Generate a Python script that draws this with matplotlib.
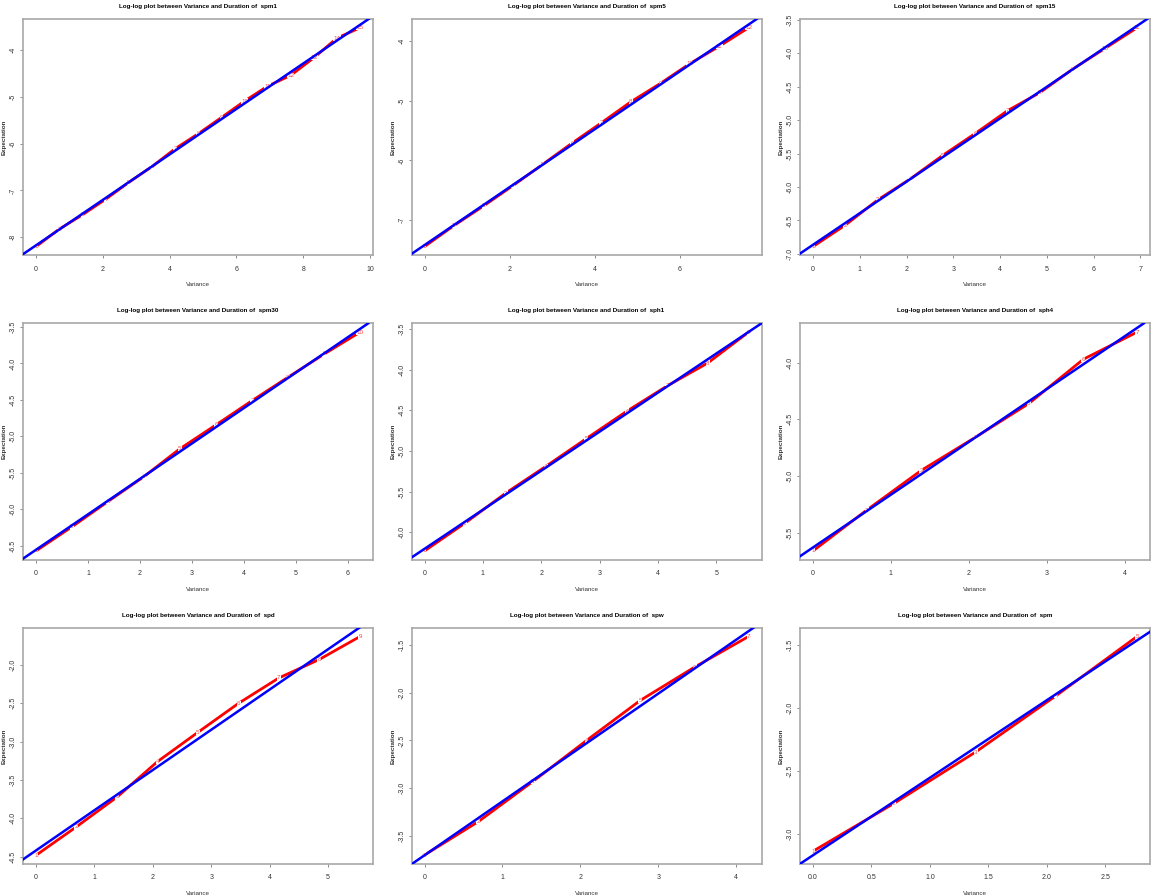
import numpy as np
import matplotlib.pyplot as plt

plt.rcParams['font.family'] = ['Liberation Sans Narrow', 'Liberation Sans', 'DejaVu Sans']
plt.rcParams['axes.unicode_minus'] = False

names = ["spm1", "spm5", "spm15", "spm30", "sph1", "sph4", "spd", "spw", "spm"]

# log(scale) on x, log(expectation) on y, one list per series
x_spm1 = [0.00, 0.69, 1.39, 2.08, 2.77, 3.47, 4.16, 4.85, 5.55, 6.24, 6.93, 7.62, 8.32, 9.01, 9.70]
y_spm1 = [-8.20, -7.83, -7.52, -7.19, -6.83, -6.49, -6.11, -5.79, -5.44, -5.09, -4.77, -4.54, -4.16, -3.74, -3.52]

x_spm5 = [0.00, 0.69, 1.39, 2.08, 2.77, 3.47, 4.16, 4.85, 5.55, 6.24, 6.93, 7.62]
y_spm5 = [-7.44, -7.09, -6.76, -6.42, -6.07, -5.71, -5.37, -5.02, -4.71, -4.38, -4.09, -3.78]

x_spm15 = [0.00, 0.69, 1.39, 2.08, 2.77, 3.47, 4.16, 4.85, 5.55, 6.24, 6.93]
y_spm15 = [-6.89, -6.57, -6.19, -5.88, -5.53, -5.20, -4.86, -4.59, -4.24, -3.93, -3.62]

x_spm30 = [0.00, 0.69, 1.39, 2.08, 2.77, 3.47, 4.16, 4.85, 5.55, 6.24]
y_spm30 = [-6.57, -6.24, -5.89, -5.55, -5.17, -4.84, -4.51, -4.19, -3.87, -3.57]

x_sph1 = [0.00, 0.69, 1.39, 2.08, 2.77, 3.47, 4.16, 4.85, 5.55]
y_sph1 = [-6.23, -5.89, -5.52, -5.19, -4.85, -4.51, -4.20, -3.92, -3.54]

x_sph4 = [0.00, 0.69, 1.39, 2.08, 2.77, 3.47, 4.16]
y_sph4 = [-5.66, -5.30, -4.95, -4.66, -4.36, -3.97, -3.73]

x_spd = [0.00, 0.69, 1.39, 2.08, 2.77, 3.47, 4.16, 4.85, 5.55]
y_spd = [-4.48, -4.11, -3.72, -3.26, -2.88, -2.50, -2.17, -1.93, -1.63]

x_spw = [0.00, 0.69, 1.39, 2.08, 2.77, 3.47, 4.16]
y_spw = [-3.70, -3.35, -2.93, -2.50, -2.08, -1.73, -1.41]

x_spm = [0.00, 0.69, 1.39, 2.08, 2.77]
y_spm = [-3.14, -2.76, -2.35, -1.90, -1.43]

xs = [x_spm1, x_spm5, x_spm15, x_spm30, x_sph1, x_sph4, x_spd, x_spw, x_spm]
ys = [y_spm1, y_spm5, y_spm15, y_spm30, y_sph1, y_sph4, y_spd, y_spw, y_spm]

xticks = [[0, 2, 4, 6, 8, 10], [0, 2, 4, 6], [0, 1, 2, 3, 4, 5, 6, 7],
          [0, 1, 2, 3, 4, 5, 6], [0, 1, 2, 3, 4, 5], [0, 1, 2, 3, 4],
          [0, 1, 2, 3, 4, 5], [0, 1, 2, 3, 4], [0.0, 0.5, 1.0, 1.5, 2.0, 2.5]]
yticks = [[-8, -7, -6, -5, -4], [-7, -6, -5, -4],
          [-7.0, -6.5, -6.0, -5.5, -5.0, -4.5, -4.0, -3.5],
          [-6.5, -6.0, -5.5, -5.0, -4.5, -4.0, -3.5],
          [-6.0, -5.5, -5.0, -4.5, -4.0, -3.5],
          [-5.5, -5.0, -4.5, -4.0],
          [-4.5, -4.0, -3.5, -3.0, -2.5, -2.0],
          [-3.5, -3.0, -2.5, -2.0, -1.5],
          [-3.0, -2.5, -2.0, -1.5]]

fig, axes = plt.subplots(3, 3, figsize=(11.53, 8.96), dpi=100)
plt.subplots_adjust(left=0.02, right=0.9974, top=0.9788, bottom=0.0357,
                    wspace=0.11, hspace=0.288)

for i, ax in enumerate(axes.flat):
    x = np.array(xs[i])
    y = np.array(ys[i])
    ax.plot(x, y, color='red', lw=2.0, zorder=2)
    for k in range(len(x)):
        ax.text(x[k], y[k], str(k + 1), color='#ff4040', fontsize=4.5,
                ha='center', va='center', zorder=3,
                bbox=dict(facecolor='white', edgecolor='none', pad=0.15))
    ax.margins(0.04)
    slope, icpt = np.polyfit(x, y, 1)
    ax.axline((0, icpt), slope=slope, color='blue', lw=1.8, zorder=4)

    ax.set_xticks(xticks[i])
    ax.set_yticks(yticks[i])
    ax.tick_params(labelsize=5, length=2.5, width=0.6, color='#777777',
                   labelcolor='#333333')
    ax.tick_params(axis='x', pad=5)
    ax.tick_params(axis='y', pad=2)
    for lab in ax.get_yticklabels():
        lab.set_rotation(90)
        lab.set_va('center')
    for s in ax.spines.values():
        s.set_color('#a8a8a8')
        s.set_linewidth(1.2)
    ax.set_title("Log-log plot between Variance and Duration of  " + names[i],
                 fontsize=4.5, fontweight='bold', pad=8)
    ax.set_xlabel("Variance", fontsize=4.5, labelpad=7, color='#333333')
    ax.set_ylabel("Expectation", fontsize=4.5, fontweight='bold', labelpad=2,
                  color='#333333')

plt.savefig("out.png", dpi=100)
